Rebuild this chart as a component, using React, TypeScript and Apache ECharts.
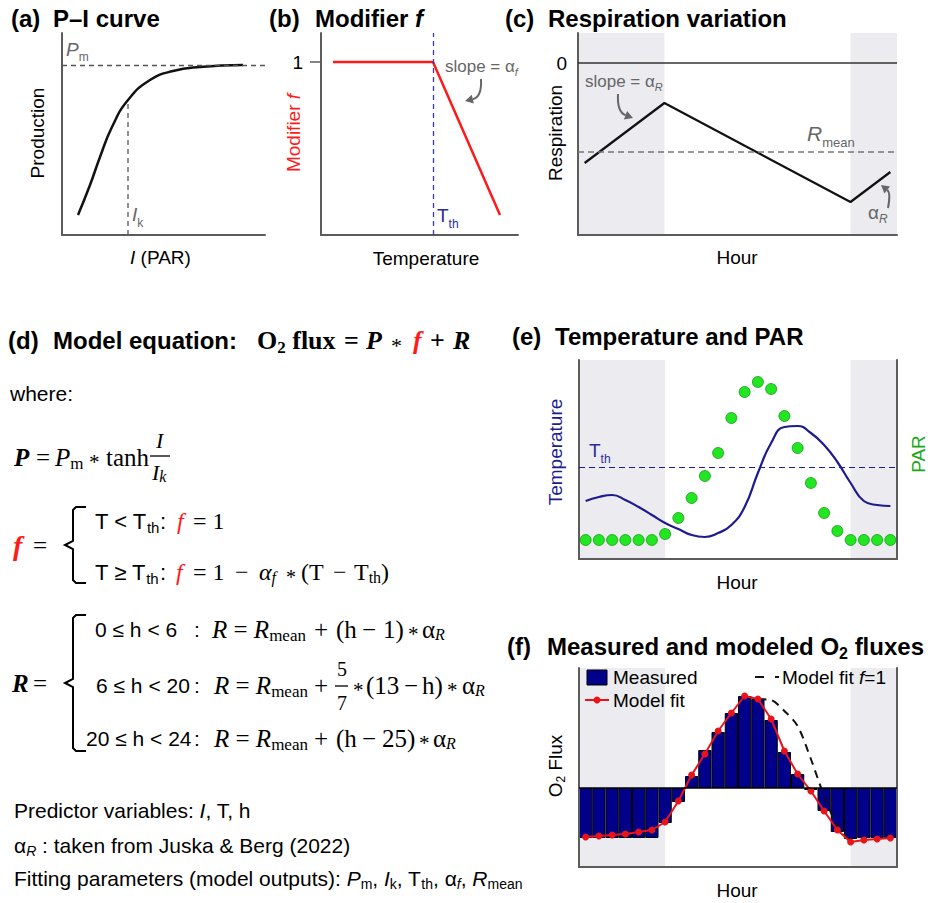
import React, { useEffect, useRef } from 'react';
import * as echarts from 'echarts';

const SANS = "'Liberation Sans', Arial, sans-serif";
const SERIF = "'Liberation Serif', 'Times New Roman', serif";

// ---------- data ----------
// (a) P–I curve (light, production)
const piLight = [16, 28, 38, 50, 66, 88, 111, 138, 181];
const piProd = [20, 50, 78, 108, 135, 155, 164, 168, 170];
const pmLevel = 170;
const ikLight = 66;
const ikProd = 135;

// (b) Modifier f vs temperature
const modTemp = [12, 112, 179];
const modF = [173, 173, 20];
const modOne = 173;
const tthTemp = 112;

// (c) Respiration variation
const respHour = [0, 6, 20, 23];
const respValue = [-100, -40, -139, -109];
const respMean = -89;

// shared hours
const hours = [0, 1, 2, 3, 4, 5, 6, 7, 8, 9, 10, 11, 12, 13, 14, 15, 16, 17, 18, 19, 20, 21, 22, 23];
const nightSpans = [[-0.5, 6], [20, 23.5]];

// (e) Temperature and PAR
const temperature = [58, 62, 64, 59, 52, 44, 36, 30, 24, 22, 26, 34, 52, 86, 116, 132, 133, 126, 114, 97, 76, 58, 54, 53];
const par = [19, 19, 19, 19, 19, 19, 25, 41, 61, 83, 106, 141, 167, 177, 170, 143, 111, 76, 46, 28, 19, 19, 19, 19];
const tthLevel = 92;

// (f) Measured and modeled O2 fluxes
const measured = [-50, -50, -50, -50, -50, -50, -35, -14, 12, 38, 56, 75, 92, 89, 68, 36, 14, -2, -23, -44, -51, -50, -50, -50];
const modelFit = [-49, -48, -47, -46, -44, -42, -34, -13, 13, 34, 57, 75, 92, 89, 69, 37, 14, -3, -23, -42, -54, -52, -51, -50];
const modelFitF1 = [null, null, null, null, null, null, null, null, null, null, null, null, 92, 89, 88, 77, 62, 29, -8, -38, -54, null, null, null];

// ---------- helpers ----------
const RED = '#ff1a1a';
const GRAY = '#666666';
const TBLUE = '#2b2ba0';
const AX = '#5c5c5c';

let ctx: CanvasRenderingContext2D | null = null;
function measure(font: string, t: string) {
  if (!ctx) ctx = document.createElement('canvas').getContext('2d');
  ctx!.font = font;
  return ctx!.measureText(t).width;
}
type Seg = { t: string; s: number; f?: 'serif'; b?: number; i?: number; c?: string; dy?: number; ax?: number; dx?: number };
function fnt(g: Seg) {
  return `${g.i ? 'italic ' : ''}${g.b ? 'bold ' : ''}${g.s}px ${g.f === 'serif' ? SERIF : SANS}`;
}
function txt(x: number, y: number, t: string, font: string, fill: string) {
  return {
    type: 'text', x, y, z: 100, silent: true,
    style: { text: t, font, fill, align: 'left', verticalAlign: 'middle', textAlign: 'left', textVerticalAlign: 'middle' },
  };
}
function run(x0: number, y: number, segs: Seg[], color = '#000') {
  const els: any[] = [];
  let x = x0;
  for (const g of segs) {
    if (g.ax !== undefined) x = g.ax;
    x += g.dx || 0;
    const font = fnt(g);
    els.push(txt(x, y + (g.dy || 0), g.t, font, g.c || color));
    x += measure(font, g.t);
  }
  return { els, w: x - x0 };
}
function rotRun(cx: number, cy: number, segs: Seg[], color = '#000') {
  const w = run(0, 0, segs, color).w;
  return { type: 'group', x: cx, y: cy, rotation: Math.PI / 2, z: 100, children: run(-w / 2, 0, segs, color).els };
}
// small centred asterisk for the math lines
function AST(size: number, ax?: number): Seg {
  return { t: '*', s: Math.round(size * 0.85), f: 'serif', dy: Math.round(size * 0.2), ax };
}
function arrow(x1: number, y1: number, cx: number, cy: number, x2: number, y2: number, color = GRAY) {
  let dx = x2 - cx, dy = y2 - cy;
  const L = Math.hypot(dx, dy) || 1;
  dx /= L; dy /= L;
  const len = 8, hw = 4.5;
  const bx = x2 - dx * len, by = y2 - dy * len;
  return [
    { type: 'bezierCurve', z: 100, silent: true, shape: { x1, y1, cpx1: cx, cpy1: cy, x2: bx, y2: by }, style: { stroke: color, lineWidth: 2, fill: 'none' } },
    { type: 'polygon', z: 100, silent: true, shape: { points: [[x2, y2], [bx - dy * hw, by + dx * hw], [bx + dy * hw, by - dx * hw]] }, style: { fill: color } },
  ];
}
function seg(x1: number, y1: number, x2: number, y2: number, color = '#000', w = 1.5) {
  return { type: 'line', z: 100, silent: true, shape: { x1, y1, x2, y2 }, style: { stroke: color, lineWidth: w } };
}
function poly(points: number[][], color = '#000', w = 2) {
  return { type: 'polyline', z: 100, silent: true, shape: { points }, style: { stroke: color, lineWidth: w, fill: 'none' } };
}

function buildGraphic() {
  const els: any[] = [];
  const add = (r: { els: any[] }) => els.push(...r.els);
  const B = (t: string, extra: Partial<Seg> = {}): Seg => ({ t, s: 24, b: 1, ...extra });

  // titles
  add(run(11, 18, [B('(a)')]));
  add(run(53, 18, [B('P–I curve')]));
  add(run(269, 18, [B('(b)')]));
  add(run(315, 18, [B('Modifier '), B('f', { i: 1 })]));
  add(run(505, 18, [B('(c)')]));
  add(run(548, 18, [B('Respiration variation')]));
  add(run(8, 340, [B('(d)')]));
  add(run(53, 340, [B('Model equation:')]));
  add(run(257, 340, [
    { t: 'O', s: 26, b: 1, f: 'serif' },
    { t: '2', s: 17, b: 1, f: 'serif', dy: 7 },
    { t: ' flux', s: 26, b: 1, f: 'serif' },
    { t: '=', s: 26, b: 1, f: 'serif', ax: 344 },
    { t: 'P', s: 26, b: 1, i: 1, f: 'serif', ax: 366 },
    AST(26, 391),
    { t: 'f', s: 26, b: 1, i: 1, f: 'serif', c: RED, ax: 413 },
    { t: '+', s: 26, b: 1, f: 'serif', ax: 430 },
    { t: 'R', s: 26, b: 1, i: 1, f: 'serif', ax: 453 },
  ]));
  add(run(512, 336, [B('(e)')]));
  add(run(555, 336, [B('Temperature and PAR')]));
  add(run(507, 646, [B('(f)')]));
  add(run(547, 646, [B('Measured and modeled O'), { t: '2', s: 16, b: 1, dy: 7 }, B(' fluxes')]));

  // (a) labels
  els.push(rotRun(37, 133, [{ t: 'Production', s: 19 }]));
  add(run(130, 257, [{ t: 'I', s: 19, i: 1 }, { t: ' (PAR)', s: 19 }]));
  add(run(66, 49, [{ t: 'P', s: 19, i: 1 }, { t: 'm', s: 12, dy: 8 }], GRAY));
  add(run(132, 214, [{ t: 'I', s: 19, i: 1 }, { t: 'k', s: 12, dy: 9 }], GRAY));

  // (b) labels
  els.push(rotRun(293, 133, [{ t: 'Modifier ', s: 19 }, { t: 'f', s: 19, i: 1 }], RED));
  add(run(426 - measure(fnt({ t: 'Temperature', s: 19 }), 'Temperature') / 2, 258, [{ t: 'Temperature', s: 19 }]));
  add(run(437, 215, [{ t: 'T', s: 19 }, { t: 'th', s: 12, dy: 9 }], TBLUE));
  add(run(445, 66, [{ t: 'slope = α', s: 17 }, { t: 'f', s: 11, i: 1, dy: 6 }], GRAY));
  els.push(...arrow(481, 79, 482, 97, 465, 101));

  // (c) labels
  els.push(rotRun(555, 133, [{ t: 'Respiration', s: 19 }]));
  add(run(737 - measure(fnt({ t: 'Hour', s: 19 }), 'Hour') / 2, 257, [{ t: 'Hour', s: 19 }]));
  add(run(585, 81, [{ t: 'slope = α', s: 17 }, { t: 'R', s: 11, i: 1, dy: 6 }], GRAY));
  els.push(...arrow(618, 94, 617, 112, 633, 118));
  add(run(807, 133, [{ t: 'R', s: 21, i: 1 }, { t: 'mean', s: 13, dy: 9 }], GRAY));
  add(run(868, 212, [{ t: 'α', s: 19 }, { t: 'R', s: 12, i: 1, dy: 7 }], GRAY));
  els.push(...arrow(888, 208, 891, 193, 881, 185));

  // (e) labels
  els.push(rotRun(555, 452, [{ t: 'Temperature', s: 19 }], '#1c1c8e'));
  els.push(rotRun(918, 454, [{ t: 'PAR', s: 19 }], '#18a818'));
  add(run(737 - measure(fnt({ t: 'Hour', s: 19 }), 'Hour') / 2, 582, [{ t: 'Hour', s: 19 }]));
  add(run(589, 450, [{ t: 'T', s: 19 }, { t: 'th', s: 12, dy: 9 }], TBLUE));

  // (f) labels and legend
  els.push(rotRun(555, 766, [{ t: 'O', s: 19 }, { t: '2', s: 12, dy: 6 }, { t: ' Flux', s: 19 }]));
  add(run(737 - measure(fnt({ t: 'Hour', s: 19 }), 'Hour') / 2, 890, [{ t: 'Hour', s: 19 }]));
  els.push({ type: 'rect', z: 100, silent: true, shape: { x: 587, y: 670, width: 20, height: 15 }, style: { fill: '#00008b', stroke: '#000', lineWidth: 1 } });
  add(run(613, 677, [{ t: 'Measured', s: 19 }]));
  els.push(seg(585, 700, 609, 700, '#e8141b', 2));
  els.push({ type: 'circle', z: 100, silent: true, shape: { cx: 597, cy: 700, r: 3.5 }, style: { fill: '#e8141b' } });
  add(run(613, 700, [{ t: 'Model fit', s: 19 }]));
  els.push(seg(755, 677, 764, 677, '#111', 2));
  els.push(seg(775, 677, 779, 677, '#111', 2));
  add(run(782, 677, [{ t: 'Model fit ', s: 19 }, { t: 'f', s: 19, i: 1 }, { t: '=1', s: 19 }]));

  // (d) equations
  add(run(10, 393, [{ t: 'where:', s: 21 }]));
  // P line
  add(run(14, 457, [
    { t: 'P', s: 25, b: 1, i: 1, f: 'serif' },
    { t: '=', s: 25, f: 'serif', ax: 36 },
    { t: 'P', s: 25, i: 1, f: 'serif', ax: 55 },
    { t: 'm', s: 17, f: 'serif', dy: 6 },
    AST(25, 89),
    { t: 'tanh', s: 25, f: 'serif', ax: 106 },
  ]));
  add(run(156, 440, [{ t: 'I', s: 22, i: 1, f: 'serif' }]));
  els.push(seg(150, 456, 170, 456, '#000', 1.3));
  add(run(152, 472, [{ t: 'I', s: 22, i: 1, f: 'serif' }, { t: 'k', s: 16, i: 1, f: 'serif', dy: 4 }]));

  // f block
  add(run(13, 545, [{ t: 'f', s: 28, b: 1, i: 1, f: 'serif', c: RED }, { t: '=', s: 25, f: 'serif', ax: 33 }]));
  els.push(poly([[86, 507], [76, 507], [73, 510], [73, 541], [65, 545], [73, 549], [73, 580], [76, 583], [86, 583]]));
  add(run(95, 521, [
    { t: 'T < T', s: 22 }, { t: 'th', s: 15, dy: 6 },
    { t: ':', s: 22, ax: 160 },
    { t: 'f', s: 24, i: 1, f: 'serif', c: RED, ax: 177 },
    { t: '= 1', s: 24, f: 'serif', ax: 193 },
  ]));
  add(run(95, 572, [
    { t: 'T ≥ T', s: 22 }, { t: 'th', s: 15, dy: 6 },
    { t: ':', s: 22, ax: 160 },
    { t: 'f', s: 24, i: 1, f: 'serif', c: RED, ax: 176 },
    { t: '= 1', s: 24, f: 'serif', ax: 193 },
    { t: '−', s: 24, f: 'serif', ax: 235 },
    { t: 'α', s: 24, i: 1, f: 'serif', ax: 259 },
    { t: 'f', s: 16, i: 1, f: 'serif', dy: 5 },
    AST(24, 286),
    { t: '(T', s: 24, f: 'serif', ax: 301 },
    { t: '−', s: 24, f: 'serif', ax: 333 },
    { t: 'T', s: 24, f: 'serif', ax: 354 },
    { t: 'th', s: 16, f: 'serif', dy: 5 },
    { t: ')', s: 24, f: 'serif' },
  ]));

  // R block
  add(run(12, 683, [{ t: 'R', s: 25, b: 1, i: 1, f: 'serif' }, { t: '=', s: 25, f: 'serif', ax: 33 }]));
  els.push(poly([[86, 615], [76, 615], [73, 618], [73, 679], [65, 683], [73, 687], [73, 748], [76, 751], [86, 751]]));
  const rHead = (ax: number): Seg[] => [
    { t: 'R', s: 25, i: 1, f: 'serif', ax },
    { t: ' = ', s: 25, f: 'serif' },
    { t: 'R', s: 25, i: 1, f: 'serif' },
    { t: 'mean', s: 17, f: 'serif', dy: 6 },
    { t: '+', s: 25, f: 'serif', ax: 314 },
  ];
  const alphaR = (ax: number): Seg[] => [
    { t: 'α', s: 25, f: 'serif', ax },
    { t: 'R', s: 16, i: 1, f: 'serif', dy: 5 },
  ];
  add(run(95, 629, [
    { t: '0 ≤ h < 6', s: 21 }, { t: ':', s: 21, ax: 194 },
    ...rHead(212),
    { t: '(h', s: 25, f: 'serif', ax: 336 },
    { t: '−', s: 25, f: 'serif', ax: 362 },
    { t: '1)', s: 25, f: 'serif', ax: 383 },
    AST(25, 408),
    ...alphaR(422),
  ]));
  add(run(96, 685, [
    { t: '6 ≤ h < 20', s: 21 }, { t: ':', s: 21, ax: 194 },
    ...rHead(214),
    AST(25, 353),
    { t: '(13', s: 25, f: 'serif', ax: 366 },
    { t: '−', s: 25, f: 'serif', ax: 404 },
    { t: 'h)', s: 25, f: 'serif', ax: 422 },
    AST(25, 447),
    ...alphaR(462),
  ]));
  add(run(337, 669, [{ t: '5', s: 20, f: 'serif' }]));
  els.push(seg(335, 686, 348, 686, '#000', 1.3));
  add(run(337, 703, [{ t: '7', s: 20, f: 'serif' }]));
  add(run(86, 738, [
    { t: '20 ≤ h < 24', s: 21 }, { t: ':', s: 21, ax: 194 },
    ...rHead(214),
    { t: '(h', s: 25, f: 'serif', ax: 336 },
    { t: '−', s: 25, f: 'serif', ax: 362 },
    { t: '25)', s: 25, f: 'serif', ax: 382 },
    AST(25, 419),
    ...alphaR(433),
  ]));

  // bottom notes
  add(run(14, 810, [{ t: 'Predictor variables: ', s: 21 }, { t: 'I', s: 21, i: 1 }, { t: ', T, h', s: 21 }]));
  add(run(14, 845, [{ t: 'α', s: 21 }, { t: 'R', s: 14, i: 1, dy: 6 }, { t: ' : taken from Juska & Berg (2022)', s: 21 }]));
  add(run(14, 878, [
    { t: 'Fitting parameters (model outputs): ', s: 21 },
    { t: 'P', s: 21, i: 1 }, { t: 'm', s: 14, dy: 6 }, { t: ', ', s: 21 },
    { t: 'I', s: 21, i: 1 }, { t: 'k', s: 14, dy: 6 }, { t: ', T', s: 21 },
    { t: 'th', s: 14, dy: 6 }, { t: ', α', s: 21 },
    { t: 'f', s: 14, i: 1, dy: 6 }, { t: ', ', s: 21 },
    { t: 'R', s: 21, i: 1 }, { t: 'mean', s: 14, dy: 6 },
  ]));

  return els;
}

function axisBase(extra: any) {
  return {
    axisLine: { show: true, onZero: false, lineStyle: { color: AX, width: 2 } },
    axisTick: { show: false },
    axisLabel: { show: false },
    splitLine: { show: false },
    z: 3,
    ...extra,
  };
}

function shade(xi: number, yi: number) {
  return {
    type: 'line', xAxisIndex: xi, yAxisIndex: yi, data: [], silent: true, z: 1, symbol: 'none',
    markArea: {
      silent: true, itemStyle: { color: '#ebebf0' },
      data: nightSpans.map(([a, b]) => [{ xAxis: a }, { xAxis: b }]),
    },
  };
}
function mline(data: any[], color: string, width: number, type: any) {
  return { silent: true, symbol: ['none', 'none'], label: { show: false }, lineStyle: { color, width, type }, emphasis: { disabled: true }, data };
}

function buildOption() {
  const lbl = { show: true, fontSize: 19, color: '#000', fontFamily: SANS };
  return {
    animation: false,
    backgroundColor: '#fff',
    grid: [
      { left: 62, top: 33, width: 203, height: 202 },
      { left: 321, top: 33, width: 197, height: 202 },
      { left: 578, top: 33, width: 319, height: 202 },
      { left: 579, top: 360, width: 318, height: 199 },
      { left: 579, top: 668, width: 318, height: 199 },
    ],
    xAxis: [
      axisBase({ type: 'value', gridIndex: 0, min: 0, max: 203 }),
      axisBase({ type: 'value', gridIndex: 1, min: 0, max: 197 }),
      axisBase({ type: 'value', gridIndex: 2, min: -0.5, max: 23.5 }),
      axisBase({ type: 'value', gridIndex: 3, min: -0.5, max: 23.5 }),
      axisBase({ type: 'category', gridIndex: 4, data: hours.map(String), boundaryGap: true }),
      { type: 'value', gridIndex: 4, min: -0.5, max: 23.5, show: false },
    ],
    yAxis: [
      axisBase({ type: 'value', gridIndex: 0, min: 0, max: 202 }),
      axisBase({
        type: 'value', gridIndex: 1, min: 0, max: 202,
        axisTick: { show: true, customValues: [modOne], length: 11, lineStyle: { color: AX, width: 1.5 } },
        axisLabel: { ...lbl, customValues: [modOne], formatter: () => '1', margin: 18 },
      }),
      axisBase({
        type: 'value', gridIndex: 2, min: -172, max: 30,
        axisLabel: { ...lbl, customValues: [0], formatter: () => '0', margin: 11 },
      }),
      axisBase({ type: 'value', gridIndex: 3, min: 0, max: 199 }),
      axisBase({ type: 'value', gridIndex: 3, min: 0, max: 199, position: 'right' }),
      axisBase({ type: 'value', gridIndex: 4, min: -79, max: 120 }),
      axisBase({ type: 'value', gridIndex: 4, min: -79, max: 120, position: 'right' }),
    ],
    series: [
      // (a)
      {
        type: 'line', xAxisIndex: 0, yAxisIndex: 0, symbol: 'none', smooth: true, silent: true, z: 3,
        data: piLight.map((x, i) => [x, piProd[i]]),
        lineStyle: { color: '#111', width: 2.5 },
        markLine: mline([{ yAxis: pmLevel }], '#555', 1.3, [5, 4]),
      },
      {
        type: 'line', xAxisIndex: 0, yAxisIndex: 0, symbol: 'none', silent: true, z: 2,
        data: [[ikLight, 0], [ikLight, ikProd]],
        lineStyle: { color: '#555', width: 1.3, type: [5, 4] },
      },
      // (b)
      {
        type: 'line', xAxisIndex: 1, yAxisIndex: 1, symbol: 'none', silent: true, z: 3,
        data: modTemp.map((x, i) => [x, modF[i]]),
        lineStyle: { color: RED, width: 2.5 },
        markLine: mline([{ xAxis: tthTemp }], '#3a3ab0', 1.3, [5, 4]),
      },
      // (c)
      shade(2, 2),
      {
        type: 'line', xAxisIndex: 2, yAxisIndex: 2, symbol: 'none', silent: true, z: 3,
        data: respHour.map((h, i) => [h, respValue[i]]),
        lineStyle: { color: '#111', width: 2.2 },
        markLine: mline([{ yAxis: 0 }], '#333', 1.5, 'solid'),
      },
      {
        type: 'line', xAxisIndex: 2, yAxisIndex: 2, symbol: 'none', silent: true, z: 2, data: [],
        markLine: mline([{ yAxis: respMean }], '#777', 1.5, [6, 4]),
      },
      // (e)
      shade(3, 3),
      {
        type: 'line', xAxisIndex: 3, yAxisIndex: 3, symbol: 'none', silent: true, z: 3, smooth: true,
        data: hours.map((h, i) => [h, temperature[i]]),
        lineStyle: { color: '#1c1c8e', width: 2.2 },
        markLine: mline([{ yAxis: tthLevel }], '#1c1c8e', 1.2, [6, 4]),
      },
      {
        type: 'scatter', xAxisIndex: 3, yAxisIndex: 3, silent: true, z: 4, symbolSize: 11,
        data: hours.map((h, i) => [h, par[i]]),
        itemStyle: { color: '#22e622', borderColor: '#149814', borderWidth: 0.8, opacity: 1 },
      },
      // (f)
      shade(5, 5),
      {
        type: 'bar', xAxisIndex: 4, yAxisIndex: 5, silent: true, z: 2, barCategoryGap: '0%',
        data: measured,
        itemStyle: { color: '#00008b', borderColor: '#000', borderWidth: 1 },
      },
      {
        type: 'line', xAxisIndex: 4, yAxisIndex: 5, symbol: 'none', silent: true, z: 3, smooth: 0.3,
        data: modelFitF1,
        lineStyle: { color: '#111', width: 2, type: [8, 6] },
      },
      {
        type: 'line', xAxisIndex: 4, yAxisIndex: 5, symbol: 'circle', symbolSize: 7, silent: true, z: 4,
        data: modelFit,
        lineStyle: { color: '#e8141b', width: 2 },
        itemStyle: { color: '#e8141b' },
        markLine: mline([{ yAxis: 0 }], '#000', 1.5, 'solid'),
      },
    ],
    graphic: { elements: buildGraphic() },
  };
}

export default function App() {
  const ref = useRef<HTMLDivElement>(null);
  useEffect(() => {
    const chart = echarts.init(ref.current!, null, { renderer: 'svg' });
    chart.setOption(buildOption() as any);
    return () => chart.dispose();
  }, []);
  return <div ref={ref} style={{ position: 'absolute', left: 0, top: 0, width: 930, height: 903, background: '#fff' }} />;
}
